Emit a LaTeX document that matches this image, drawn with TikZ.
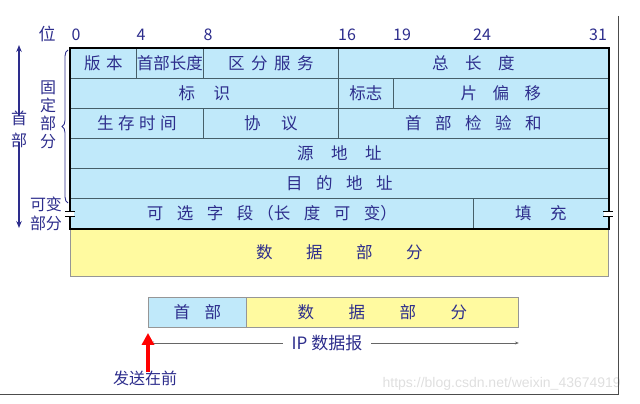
\documentclass[tikz,border=0pt]{standalone}
\usepackage{fontspec}
\setmainfont{Noto Sans CJK SC}
\newfontfamily\wmfont{Liberation Sans}
\usetikzlibrary{decorations.pathreplacing,arrows.meta}
\definecolor{navy}{RGB}{45,45,140}
\definecolor{cellblue}{RGB}{192,233,250}
\definecolor{datayellow}{RGB}{255,250,160}
\definecolor{gridline}{RGB}{70,95,105}
\definecolor{boxgray}{RGB}{150,150,150}
\tikzset{
  cell/.style={draw=gridline, line width=0.9pt, fill=cellblue, inner sep=0pt, anchor=north west,
    minimum height=30pt, text=navy, font=\fontsize{16.5}{16.5}\selectfont},
  ycell/.style={cell, fill=datayellow, draw=boxgray},
  lbl/.style={text=navy, inner sep=0pt, font=\fontsize{16}{16}\selectfont},
  breakmark/.style={black, line width=1pt},
}
\newcommand\gp[1]{\hspace{#1pt}}
\begin{document}
\begin{tikzpicture}[x=1pt,y=-1pt]
\useasboundingbox (0,0) rectangle (640,404);
% bit numbers
\node[lbl, font=\fontsize{17}{17}\selectfont] (wei) at (47,34) {位};
\node[lbl] (b0) at (76,35) {0};
\node[lbl] (b4) at (141,35) {4};
\node[lbl] (b8) at (208,35) {8};
\node[lbl] (b16) at (347,35) {16};
\node[lbl] (b19) at (402,35) {19};
\node[lbl] (b24) at (482,35) {24};
\node[lbl] (b31) at (598,35) {31};
% data part
\node[ycell, minimum width=538pt, minimum height=48pt] (data) at (70,228) {数\gp{33.5}据\gp{33.5}部\gp{33.5}分};
% row 1
\node[cell, minimum width=66pt] (ver) at (70,48) {版\gp{5.5}本};
\node[cell, minimum width=67pt] (hlen) at (136,48) {首部长度};
\node[cell, minimum width=135pt] (ds) at (203,48) {区\gp{6.5}分\gp{6.5}服\gp{6.5}务};
\node[cell, minimum width=270pt] (tlen) at (338,48) {总\gp{16.5}长\gp{16.5}度};
% row 2
\node[cell, minimum width=268pt] (ident) at (70,78) {标\gp{18.5}识};
\node[cell, minimum width=55pt] (flag) at (338,78) {标志};
\node[cell, minimum width=215pt] (frag) at (393,78) {片\gp{15.5}偏\gp{15.5}移};
% row 3
\node[cell, minimum width=133pt] (ttl) at (70,108) {生\gp{4.5}存\gp{4.5}时\gp{4.5}间};
\node[cell, minimum width=135pt] (proto) at (203,108) {协\gp{20.5}议};
\node[cell, minimum width=270pt] (csum) at (338,108) {首\gp{13.5}部\gp{13.5}检\gp{13.5}验\gp{13.5}和};
% row 4, 5
\node[cell, minimum width=538pt] (src) at (70,138) {源\gp{17.5}地\gp{17.5}址};
\node[cell, minimum width=538pt] (dst) at (70,168) {目\gp{13.5}的\gp{13.5}地\gp{13.5}址};
% row 6
\node[cell, minimum width=403pt] (opt) at (70,198) {可\gp{13.5}选\gp{13.5}字\gp{13.5}段\gp{4}（长\gp{13.5}度\gp{13.5}可\gp{13.5}变）};
\node[cell, minimum width=135pt] (pad) at (473,198) {填\gp{18.5}充};
% outer border
\draw[black, line width=1.6pt] (ver.north west) rectangle (pad.south east);
% break marks
\fill[white] (66,211) rectangle (74,216);
\draw[breakmark] (65,211) -- (75,211) (65,216) -- (75,216);
\fill[white] (604,211) rectangle (612,216);
\draw[breakmark] (603,211) -- (613,211) (603,216) -- (613,216);
% left labels
\node[lbl] (shou) at (19,118) {首};
\node[lbl] (bu) at (19,140) {部};
\coordinate (htop) at (19,45);
\coordinate (hbot) at (19,228);
\draw[navy, line width=1.4pt, -{Stealth[length=7pt,width=5.5pt]}] (shou.north) ++(0,-6pt) -- (htop);
\draw[navy, line width=1.4pt, -{Stealth[length=7pt,width=5.5pt]}] (bu.south) ++(0,6pt) -- (hbot);
\node[lbl, align=center, font=\fontsize{16}{18}\selectfont] (fixed) at (48,115) {固\\定\\部\\分};
\node[lbl, align=center, font=\fontsize{16}{19}\selectfont] (var) at (46,214) {可变\\部分};
\draw[navy, line width=0.9pt, decorate, decoration={brace, amplitude=6pt}] (68,203) -- (68,50);
% bottom datagram
\node[cell, draw=boxgray, minimum width=98pt] (hdr) at (148,297) {首\gp{14.5}部};
\node[ycell, minimum width=272pt] (body) at (246,297) {数\gp{34.5}据\gp{34.5}部\gp{34.5}分};
\node[lbl, font=\fontsize{17}{17}\selectfont, fill=white, inner xsep=9pt, inner ysep=2pt] (ip) at (327,343) {IP 数据报};
\draw[gray!80!black, line width=0.9pt, -{Stealth[length=4pt,width=3pt]}] (ip.west) -- ([xshift=2pt]hdr.south west |- ip.west);
\draw[gray!80!black, line width=0.9pt, -{Stealth[length=4pt,width=3pt]}] (ip.east) -- (body.south east |- ip.east);
\node[lbl] (send) at (145,378) {发送在前};
\draw[red, line width=3.5pt, -{Triangle[length=12pt,width=12pt]}] ([xshift=3pt]send.north) ++(0,-2pt) -- ([yshift=-5pt]hdr.south west);
% watermark and frame
\node[anchor=east, inner sep=0pt, text=gray!25, font=\wmfont\fontsize{14}{14}\selectfont] (wm) at (621,384) {https://blog.csdn.net/weixin\_43674919};
\draw[gray!60!black, line width=0.8pt] (618,16) -- (618,394) -- (0,394);
\end{tikzpicture}
\end{document}
